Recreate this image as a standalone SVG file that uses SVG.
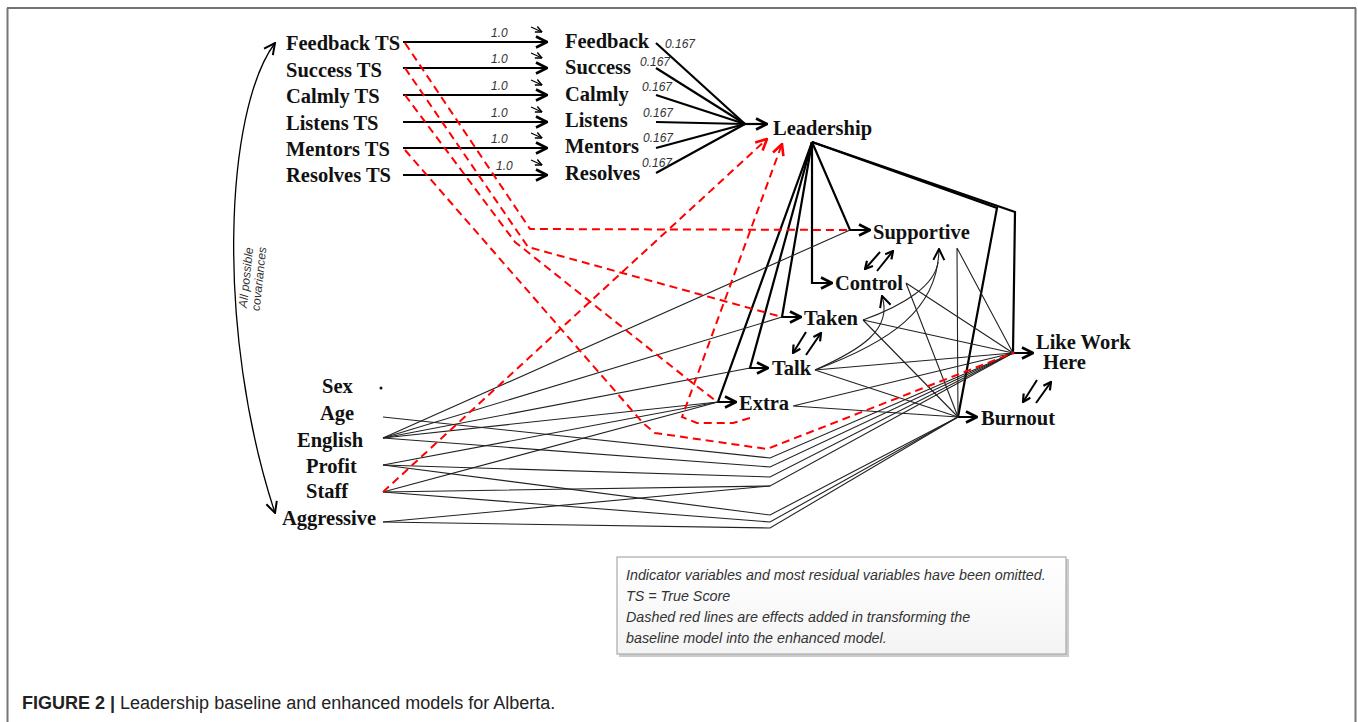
<svg xmlns="http://www.w3.org/2000/svg" width="1358" height="722" viewBox="0 0 1358 722">
<defs>
<style>
.n{font-family:"Liberation Serif","Times New Roman",serif;font-weight:bold;font-size:20.5px;fill:#111}
.w{font-family:"Liberation Sans",Arial,sans-serif;font-style:italic;font-size:12px;fill:#333}
.lg{font-family:"Liberation Sans",Arial,sans-serif;font-style:italic;font-size:14.3px;fill:#333}
.thick{stroke:#000;stroke-width:2.2;fill:none}
.thin{stroke:#222;stroke-width:1.1;fill:none}
.red{stroke:#f00;stroke-width:2;stroke-dasharray:8 5;fill:none}
.dbl{stroke:#000;stroke-width:2;fill:none}
</style>
<marker id="a" markerUnits="userSpaceOnUse" viewBox="0 0 14 14" refX="13" refY="7" markerWidth="14" markerHeight="14" orient="auto"><path d="M2,1.5 L13,7 L2,12.5" fill="none" stroke="#000" stroke-width="2.6"/></marker>
<marker id="r" markerUnits="userSpaceOnUse" viewBox="0 0 14 14" refX="13" refY="7" markerWidth="14" markerHeight="14" orient="auto"><path d="M2,1.5 L13,7 L2,12.5" fill="none" stroke="#f00" stroke-width="2.6"/></marker>
<marker id="s" markerUnits="userSpaceOnUse" viewBox="0 0 10 10" refX="9" refY="5" markerWidth="10" markerHeight="10" orient="auto"><path d="M1.5,1 L9,5 L1.5,9" fill="none" stroke="#000" stroke-width="2.2"/></marker>
<marker id="t" markerUnits="userSpaceOnUse" viewBox="0 0 8 8" refX="7.5" refY="4" markerWidth="8" markerHeight="8" orient="auto"><path d="M1,1 L7.5,4 L1,7" fill="none" stroke="#000" stroke-width="1.4"/></marker>
<marker id="c" markerUnits="userSpaceOnUse" viewBox="0 0 14 14" refX="13" refY="7" markerWidth="14" markerHeight="14" orient="auto"><path d="M2,1.5 L13,7 L2,12.5" fill="none" stroke="#000" stroke-width="2"/></marker>
<linearGradient id="lgbg" x1="0" y1="0" x2="0" y2="1"><stop offset="0" stop-color="#ffffff"/><stop offset="1" stop-color="#f4f4f4"/></linearGradient>
</defs>
<rect x="0" y="0" width="1358" height="722" fill="#fff"/>
<g id="frame">
<line x1="7" y1="8" x2="1356" y2="8" stroke="#444" stroke-width="1.5"/>
<line x1="7.5" y1="8" x2="7.5" y2="722" stroke="#777" stroke-width="2"/>
<line x1="1355.5" y1="8" x2="1355.5" y2="722" stroke="#777" stroke-width="2"/>
</g>

<g id="connectors">
<g class="thick">
<path d="M403,42 H547" marker-end="url(#a)"/>
<path d="M403,68 H547" marker-end="url(#a)"/>
<path d="M403,95 H547" marker-end="url(#a)"/>
<path d="M403,122 H547" marker-end="url(#a)"/>
<path d="M403,148 H547" marker-end="url(#a)"/>
<path d="M403,175 H547" marker-end="url(#a)"/>
</g>
<g stroke="#000" stroke-width="1.2" fill="none">
<path d="M531,27 L542,32" marker-end="url(#t)"/>
<path d="M531,53 L542,58" marker-end="url(#t)"/>
<path d="M531,80 L542,85" marker-end="url(#t)"/>
<path d="M531,107 L542,112" marker-end="url(#t)"/>
<path d="M531,133 L542,138" marker-end="url(#t)"/>
<path d="M531,160 L542,165" marker-end="url(#t)"/>
</g>
<g class="w">
<text x="491" y="37">1.0</text>
<text x="491" y="63">1.0</text>
<text x="491" y="90">1.0</text>
<text x="491" y="117">1.0</text>
<text x="491" y="143">1.0</text>
<text x="496" y="170">1.0</text>
</g>
<g class="thick">
<path d="M656,43 L745,124"/>
<path d="M656,68 L745,124"/>
<path d="M656,95 L745,124"/>
<path d="M656,122 L745,124"/>
<path d="M656,148 L745,124"/>
<path d="M656,173 L745,124"/>
<path d="M745,124 H767" marker-end="url(#a)"/>
</g>
<g class="w">
<text x="665" y="48">0.167</text>
<text x="640" y="66">0.167</text>
<text x="642" y="91">0.167</text>
<text x="643" y="117">0.167</text>
<text x="643" y="142">0.167</text>
<text x="642" y="167">0.167</text>
</g>
<g class="thick">
<path d="M812,142 L850,230 H870" marker-end="url(#a)"/>
<path d="M812,142 L812,283 H832" marker-end="url(#a)"/>
<path d="M812,142 L782,317 H801" marker-end="url(#a)"/>
<path d="M812,142 L750,368 H768" marker-end="url(#a)"/>
<path d="M812,142 L718,402 H736" marker-end="url(#a)"/>
<path d="M812,142 L997,208 L958,417 H977" marker-end="url(#a)"/>
<path d="M812,142 L1015,212 L1013,353 H1033" marker-end="url(#a)"/>
</g>
<g class="thin">
<path d="M957,248 L1013,353 M957,248 L958,417"/>
<path d="M906,283 L1013,353 M906,283 L958,417"/>
<path d="M863,320 L1013,353 M863,320 L958,417"/>
<path d="M815,370 L1013,353 M815,370 L958,417"/>
<path d="M793,406 L1013,353 M793,406 L958,417"/>
<path d="M863,320 C905,305 935,285 938,262"/>
<path d="M815,370 C890,342 938,310 939,249" marker-end="url(#c)"/>
<path d="M815,370 C860,350 893,330 882,296" marker-end="url(#c)"/>
</g>
<g class="thin">
<path d="M383,438 L850,230"/>
<path d="M383,438 L782,317"/>
<path d="M383,438 L750,368"/>
<path d="M383,438 L718,402"/>
<path d="M383,465 L718,402"/>
<path d="M383,492 L718,402"/>
<path d="M383,417 L770,458 L1013,353"/>
<path d="M383,438 L770,467 L1013,353"/>
<path d="M383,465 L770,477 L1013,353"/>
<path d="M383,492 L770,486 L1013,353"/>
<path d="M383,522 L770,486"/>
<path d="M383,465 L770,515 L958,417"/>
<path d="M383,492 L770,522 L958,417"/>
<path d="M383,522 L770,528 L958,417"/>
</g>
<g class="red">
<path d="M405,43 L530,229 L852,230"/>
<path d="M405,68 L528,247 L782,317"/>
<path d="M405,95 L515,242 L690,381 L716,401"/>
<path d="M405,150 L643,423 L655,433 L767,449 L1013,353"/>
<path d="M383,492 L767,139" marker-end="url(#r)"/>
<path d="M750,418 L733,423 L697,423 L682,417 L782,144" marker-end="url(#r)"/>
</g>
<circle cx="1013" cy="353" r="1.6" fill="#f00"/>
<g class="dbl">
<path d="M880,252 L865,269" marker-end="url(#s)"/>
<path d="M877,271 L893,251" marker-end="url(#s)"/>
<path d="M806,332 L793,353" marker-end="url(#s)"/>
<path d="M806,355 L821,333" marker-end="url(#s)"/>
<path d="M1037,380 L1023,402" marker-end="url(#s)"/>
<path d="M1036,403 L1051,382" marker-end="url(#s)"/>
</g>
<path d="M275,43 C225,110 215,330 275,513" stroke="#000" stroke-width="1.3" fill="none" marker-end="url(#c)"/>
<path d="M275,513 C215,330 225,110 275,43" stroke="none" fill="none" marker-end="url(#c)"/>
<g transform="translate(250,278) rotate(-84)" class="w">
<text x="0" y="0" text-anchor="middle">All possible</text>
<text x="0" y="13" text-anchor="middle">covariances</text>
</g>
</g>

<g id="ts-nodes" class="n">
<text id="feedbackTS" x="286" y="50">Feedback TS</text>
<text id="successTS" x="286" y="77">Success TS</text>
<text id="calmlyTS" x="286" y="103">Calmly TS</text>
<text id="listensTS" x="286" y="130">Listens TS</text>
<text id="mentorsTS" x="286" y="156">Mentors TS</text>
<text id="resolvesTS" x="286" y="182">Resolves TS</text>
</g>
<g id="indicators" class="n">
<text id="feedback" x="565" y="48">Feedback</text>
<text id="success" x="565" y="74">Success</text>
<text id="calmly" x="565" y="101">Calmly</text>
<text id="listens" x="565" y="127">Listens</text>
<text id="mentors" x="565" y="153">Mentors</text>
<text id="resolves" x="565" y="180">Resolves</text>
</g>
<g id="leadership" class="n"><text x="773" y="135">Leadership</text></g>
<g id="supportive" class="n"><text x="873" y="239">Supportive</text></g>
<g id="control" class="n"><text x="835" y="290">Control</text></g>
<g id="taken" class="n"><text x="804" y="325">Taken</text></g>
<g id="talk" class="n"><text x="772" y="375">Talk</text></g>
<g id="extra" class="n"><text x="739" y="410">Extra</text></g>
<g id="likework" class="n"><text x="1036" y="349">Like Work</text><text x="1043" y="369">Here</text></g>
<g id="burnout" class="n"><text x="981" y="425">Burnout</text></g>
<g id="exogenous" class="n">
<g id="sex"><text x="322" y="393">Sex</text><circle cx="381" cy="388" r="1.5" fill="#111"/></g>
<g id="age"><text x="320" y="420">Age</text></g>
<g id="english"><text x="297" y="447">English</text></g>
<g id="profit"><text x="306" y="473">Profit</text></g>
<g id="staff"><text x="306" y="498">Staff</text></g>
<g id="aggressive"><text x="282" y="525">Aggressive</text></g>
</g>

<g id="legend">
<rect x="619" y="559" width="450" height="98" fill="#ccc"/>
<rect x="617" y="557" width="449" height="97" fill="url(#lgbg)" stroke="#aaa" stroke-width="1.2"/>
<text class="lg" x="626" y="580">Indicator variables and most residual variables have been omitted.</text>
<text class="lg" x="626" y="601">TS = True Score</text>
<text class="lg" x="626" y="622">Dashed red lines are effects added in transforming the</text>
<text class="lg" x="626" y="643">baseline model into the enhanced model.</text>
</g>

<g id="caption">
<text x="22" y="709" font-family="'Liberation Sans',Arial,sans-serif" font-size="18" fill="#222"><tspan font-weight="bold">FIGURE 2 |</tspan> Leadership baseline and enhanced models for Alberta.</text>
</g>
</svg>
